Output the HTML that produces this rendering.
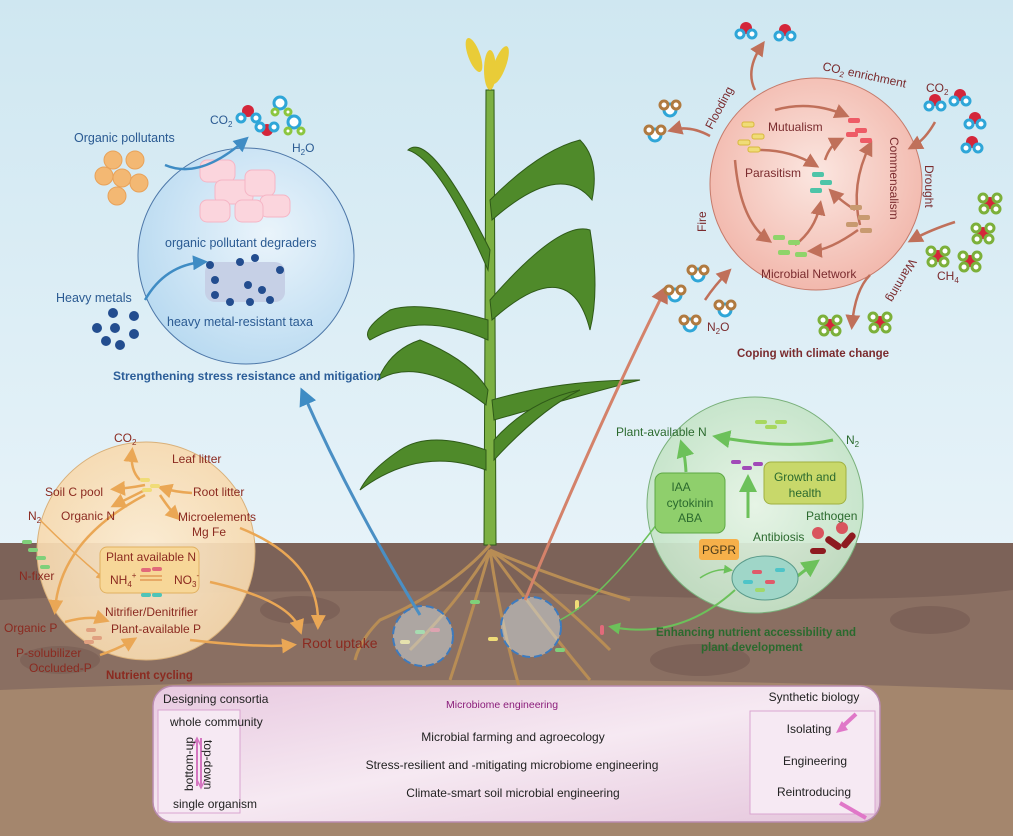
<!DOCTYPE html>
<html><head><meta charset="utf-8"><style>
html,body{margin:0;padding:0;width:1013px;height:836px;overflow:hidden}
svg{display:block}
text{font-family:"Liberation Sans",sans-serif}
</style></head><body>
<svg width="1013" height="836" viewBox="0 0 1013 836" xmlns="http://www.w3.org/2000/svg">
<defs>
<linearGradient id="sky" x1="0" y1="0" x2="0" y2="1"><stop offset="0" stop-color="#cfe7f1"/><stop offset="1" stop-color="#f3f9fd"/></linearGradient>
<radialGradient id="bc" cx="0.6" cy="0.4" r="0.7"><stop offset="0" stop-color="#eaf4fb"/><stop offset="1" stop-color="#b5d8f0"/></radialGradient>
<radialGradient id="pc" cx="0.5" cy="0.45" r="0.6"><stop offset="0" stop-color="#fbe6e0"/><stop offset="1" stop-color="#f1b4a8"/></radialGradient>
<radialGradient id="oc" cx="0.5" cy="0.5" r="0.6"><stop offset="0" stop-color="#fcebd0"/><stop offset="1" stop-color="#f6d6a8"/></radialGradient>
<radialGradient id="gc" cx="0.5" cy="0.5" r="0.6"><stop offset="0" stop-color="#e6f4e4"/><stop offset="1" stop-color="#bfe1c3"/></radialGradient>
<linearGradient id="box" x1="0" y1="0" x2="1" y2="1"><stop offset="0" stop-color="#e8c9e0"/><stop offset="0.5" stop-color="#f6e9f2"/><stop offset="1" stop-color="#e5c6dc"/></linearGradient>
<marker id="ao" markerWidth="6" markerHeight="6" refX="4" refY="3" orient="auto"><path d="M0,0 L6,3 L0,6z" fill="#eaa755"/></marker>
<marker id="ar" markerWidth="6" markerHeight="6" refX="4" refY="3" orient="auto"><path d="M0,0 L6,3 L0,6z" fill="#c0705a"/></marker>
<marker id="ag" markerWidth="6" markerHeight="6" refX="4" refY="3" orient="auto"><path d="M0,0 L6,3 L0,6z" fill="#6cc15a"/></marker>
<marker id="ab" markerWidth="6" markerHeight="6" refX="4" refY="3" orient="auto"><path d="M0,0 L6,3 L0,6z" fill="#3f8cc4"/></marker>
<g id="mw"><circle cx="0" cy="0" r="6" fill="#d4263a"/><circle cx="-6" cy="6" r="4" fill="#fff" stroke="#2fa6d8" stroke-width="3"/><circle cx="6" cy="6" r="4" fill="#fff" stroke="#2fa6d8" stroke-width="3"/></g>
<g id="mn"><circle cx="0" cy="0" r="6" fill="#fff" stroke="#2fa6d8" stroke-width="3"/><circle cx="-6" cy="-5" r="4" fill="#fff" stroke="#b07a40" stroke-width="3"/><circle cx="6" cy="-5" r="4" fill="#fff" stroke="#b07a40" stroke-width="3"/></g>
<g id="mc"><circle cx="0" cy="0" r="6" fill="#d4263a"/><circle cx="-7" cy="-5" r="4" fill="#fff" stroke="#7cb03a" stroke-width="3"/><circle cx="7" cy="-5" r="4" fill="#fff" stroke="#7cb03a" stroke-width="3"/><circle cx="-6" cy="6" r="4" fill="#fff" stroke="#7cb03a" stroke-width="3"/><circle cx="6" cy="6" r="4" fill="#fff" stroke="#7cb03a" stroke-width="3"/></g>
</defs>
<rect width="1013" height="836" fill="url(#sky)"/>
<!-- soil -->
<rect y="543" width="1013" height="293" fill="#7c6258"/>
<path d="M0,600 Q300,585 600,595 T1013,590 L1013,836 L0,836z" fill="#8a6f62"/>
<path d="M0,690 Q500,670 1013,690 L1013,836 L0,836z" fill="#a4866d"/>
<ellipse cx="300" cy="610" rx="40" ry="14" fill="#6f564d" opacity="0.5"/>
<ellipse cx="700" cy="660" rx="50" ry="16" fill="#6f564d" opacity="0.5"/>
<ellipse cx="930" cy="620" rx="40" ry="14" fill="#6f564d" opacity="0.5"/>
<ellipse cx="60" cy="660" rx="40" ry="14" fill="#6f564d" opacity="0.4"/>
<!-- plant -->
<g fill="#4f8a2a" stroke="#2f5a18" stroke-width="1">
<path d="M486,90 L494,90 L496,545 L484,545z" fill="#7cb043"/>
<path d="M490,250 Q430,130 408,150 Q440,160 488,270z"/>
<path d="M490,200 Q540,150 580,140 Q600,160 592,200 Q560,160 492,220z"/>
<path d="M490,300 Q560,220 590,230 Q600,290 590,330 Q570,250 492,320z"/>
<path d="M488,320 Q420,300 390,310 Q360,330 370,340 Q420,310 488,340z"/>
<path d="M488,390 Q470,360 420,340 Q390,350 378,380 Q420,355 486,405z"/>
<path d="M492,400 Q560,380 640,380 Q600,390 494,420z"/>
<path d="M486,450 Q430,430 400,450 Q370,470 360,490 Q420,445 486,470z"/>
<path d="M494,440 Q530,400 580,390 Q540,410 494,460z"/>
</g>
<g fill="#e9cc38"><ellipse cx="474" cy="55" rx="6" ry="18" transform="rotate(-20 474 55)"/><ellipse cx="490" cy="70" rx="6" ry="20"/><ellipse cx="500" cy="65" rx="6" ry="20" transform="rotate(20 500 65)"/></g>
<!-- roots -->
<g stroke="#b88d55" stroke-width="3" fill="none">
<path d="M490,545 Q450,590 380,620 Q360,640 355,660"/><path d="M490,550 Q460,600 410,650"/><path d="M490,550 Q500,620 520,690"/>
<path d="M490,550 Q550,590 610,650"/><path d="M490,550 Q560,580 630,600"/><path d="M490,550 Q540,620 590,680"/><path d="M490,550 Q470,620 450,680"/>
</g>
<g fill="#f0dc77"><rect x="400" y="640" width="10" height="4" rx="2"/><rect x="488" y="637" width="10" height="4" rx="2"/><rect x="575" y="600" width="4" height="10" rx="2"/></g>
<g fill="#7fd07a"><rect x="470" y="600" width="10" height="4" rx="2"/><rect x="415" y="630" width="10" height="4" rx="2"/><rect x="555" y="648" width="10" height="4" rx="2"/></g>
<g fill="#e26a7a"><rect x="430" y="628" width="10" height="4" rx="2"/><rect x="600" y="625" width="4" height="10" rx="2"/></g>
<circle cx="423" cy="636" r="30" fill="#d8e8f2" fill-opacity="0.45" stroke="#3d7bbf" stroke-width="2" stroke-dasharray="8 4"/>
<circle cx="531" cy="627" r="30" fill="#d8e8f2" fill-opacity="0.45" stroke="#3d7bbf" stroke-width="2" stroke-dasharray="8 4"/>
<!-- long arrows -->
<path d="M420,615 Q350,500 303,393" stroke="#4a8fc4" stroke-width="3" fill="none" marker-end="url(#ab)"/>
<path d="M525,600 Q600,420 665,290" stroke="#d4826a" stroke-width="3" fill="none" marker-end="url(#ar)"/>

<!-- blue circle -->
<circle cx="246" cy="256" r="108" fill="url(#bc)" stroke="#4d77a8" stroke-width="1"/>
<g fill="#fbd5dd" stroke="#f5b5c5"><rect x="200" y="160" width="35" height="22" rx="7"/><rect x="215" y="180" width="38" height="24" rx="7"/><rect x="245" y="170" width="30" height="26" rx="7"/><rect x="260" y="195" width="30" height="22" rx="7"/><rect x="200" y="200" width="30" height="22" rx="7"/><rect x="235" y="200" width="28" height="22" rx="7"/></g>
<g fill="#c6d0e6"><rect x="205" y="262" width="80" height="40" rx="10"/></g>
<g fill="#234d8f"><circle cx="210" cy="265" r="4"/><circle cx="240" cy="262" r="4"/><circle cx="255" cy="258" r="4"/><circle cx="280" cy="270" r="4"/><circle cx="215" cy="280" r="4"/><circle cx="248" cy="285" r="4"/><circle cx="262" cy="290" r="4"/><circle cx="230" cy="302" r="4"/><circle cx="250" cy="302" r="4"/><circle cx="215" cy="295" r="4"/><circle cx="270" cy="300" r="4"/></g>
<g fill="#234d8f"><circle cx="113" cy="313" r="5"/><circle cx="134" cy="316" r="5"/><circle cx="115" cy="328" r="5"/><circle cx="97" cy="328" r="5"/><circle cx="134" cy="334" r="5"/><circle cx="106" cy="341" r="5"/><circle cx="120" cy="345" r="5"/></g>
<g fill="#f3b873" stroke="#e8a25a"><circle cx="113" cy="160" r="9"/><circle cx="135" cy="160" r="9"/><circle cx="104" cy="176" r="9"/><circle cx="122" cy="178" r="9"/><circle cx="139" cy="183" r="9"/><circle cx="117" cy="196" r="9"/></g>
<path d="M165,165 Q200,180 245,140" stroke="#3f8cc4" stroke-width="2.5" fill="none" marker-end="url(#ab)"/>
<path d="M145,300 Q165,265 203,262" stroke="#3f8cc4" stroke-width="2.5" fill="none" marker-end="url(#ab)"/>
<g><circle cx="248" cy="111" r="6" fill="#d4263a"/><circle cx="241" cy="118" r="4" fill="#fff" stroke="#2fa6d8" stroke-width="3"/><circle cx="256" cy="118" r="4" fill="#fff" stroke="#2fa6d8" stroke-width="3"/><circle cx="267" cy="130" r="6" fill="#d4263a"/><circle cx="260" cy="127" r="4" fill="#fff" stroke="#2fa6d8" stroke-width="3"/><circle cx="274" cy="127" r="4" fill="#fff" stroke="#2fa6d8" stroke-width="3"/><circle cx="280" cy="103" r="6" fill="#fff" stroke="#2fa6d8" stroke-width="3"/><circle cx="275" cy="112" r="3" fill="#fff" stroke="#8cc63f" stroke-width="3"/><circle cx="288" cy="112" r="3" fill="#fff" stroke="#8cc63f" stroke-width="3"/><circle cx="294" cy="122" r="6" fill="#fff" stroke="#2fa6d8" stroke-width="3"/><circle cx="288" cy="131" r="3" fill="#fff" stroke="#8cc63f" stroke-width="3"/><circle cx="301" cy="131" r="3" fill="#fff" stroke="#8cc63f" stroke-width="3"/></g>
<g fill="#2a5a92" font-size="12.5">
<text x="74" y="142">Organic pollutants</text>
<text x="210" y="124" font-size="12">CO<tspan font-size="8" dy="3">2</tspan></text>
<text x="292" y="152" font-size="12">H<tspan font-size="8" dy="3">2</tspan><tspan dy="-3">O</tspan></text>
<text x="165" y="247">organic pollutant degraders</text>
<text x="56" y="302">Heavy metals</text>
<text x="167" y="326">heavy metal-resistant taxa</text>
<text x="113" y="380" font-weight="bold" fill="#2b5d98" font-size="12">Strengthening stress resistance and mitigation</text>
</g>

<!-- pink circle -->
<circle cx="816" cy="184" r="106" fill="url(#pc)" stroke="#c57a6a" stroke-width="1"/>
<g stroke="#c0705a" stroke-width="2.5" fill="none">
<path d="M775,110 Q810,100 845,115" marker-end="url(#ar)"/><path d="M760,150 Q790,150 815,165" marker-end="url(#ar)"/>
<path d="M735,160 Q740,220 768,240" marker-end="url(#ar)"/><path d="M795,245 Q815,230 820,205" marker-end="url(#ar)"/>
<path d="M825,160 Q830,145 840,140" marker-end="url(#ar)"/><path d="M855,210 Q840,200 832,192" marker-end="url(#ar)"/>
<path d="M860,225 Q850,185 870,145" marker-end="url(#ar)"/><path d="M858,230 Q830,250 812,251" marker-end="url(#ar)"/>
<path d="M755,90 Q745,70 762,45" marker-end="url(#ar)"/><path d="M710,136 Q690,125 672,130" marker-end="url(#ar)"/>
<path d="M935,122 Q925,140 912,147" marker-end="url(#ar)"/><path d="M955,222 Q930,230 912,240" marker-end="url(#ar)"/>
<path d="M870,275 Q855,290 852,325" marker-end="url(#ar)"/><path d="M705,300 Q715,285 728,272" marker-end="url(#ar)"/>
</g>
<g fill="#f0dc77" stroke="#d8b83c"><rect x="742" y="122" width="12" height="5" rx="2"/><rect x="752" y="134" width="12" height="5" rx="2"/><rect x="738" y="140" width="12" height="5" rx="2"/><rect x="748" y="147" width="12" height="5" rx="2"/></g>
<g fill="#ee5b66"><rect x="848" y="118" width="12" height="5" rx="2"/><rect x="855" y="128" width="12" height="5" rx="2"/><rect x="846" y="132" width="12" height="5" rx="2"/><rect x="860" y="138" width="12" height="5" rx="2"/></g>
<g fill="#4ec4a8"><rect x="812" y="172" width="12" height="5" rx="2"/><rect x="820" y="180" width="12" height="5" rx="2"/><rect x="810" y="188" width="12" height="5" rx="2"/></g>
<g fill="#c89a70"><rect x="850" y="205" width="12" height="5" rx="2"/><rect x="858" y="215" width="12" height="5" rx="2"/><rect x="846" y="222" width="12" height="5" rx="2"/><rect x="860" y="228" width="12" height="5" rx="2"/></g>
<g fill="#8fd46a"><rect x="773" y="235" width="12" height="5" rx="2"/><rect x="788" y="240" width="12" height="5" rx="2"/><rect x="778" y="250" width="12" height="5" rx="2"/><rect x="795" y="252" width="12" height="5" rx="2"/></g>
<g fill="#7a2b2e" font-size="12">
<text x="768" y="131">Mutualism</text>
<text x="745" y="177">Parasitism</text>
<text x="761" y="278">Microbial Network</text>
<text x="822" y="70" transform="rotate(12 822 70)">CO<tspan font-size="8" dy="3">2</tspan><tspan dy="-3"> enrichment</tspan></text>
<text x="712" y="130" transform="rotate(-62 712 130)">Flooding</text>
<text x="706" y="232" transform="rotate(-90 706 232)">Fire</text>
<text x="890" y="137" transform="rotate(90 890 137)">Commensalism</text>
<text x="925" y="165" transform="rotate(90 925 165)">Drought</text>
<text x="910" y="258" transform="rotate(120 910 258)">Warming</text>
<text x="926" y="92">CO<tspan font-size="8" dy="3">2</tspan></text>
<text x="937" y="280">CH<tspan font-size="8" dy="3">4</tspan></text>
<text x="707" y="331">N<tspan font-size="8" dy="3">2</tspan><tspan dy="-3">O</tspan></text>
<text x="737" y="357" font-weight="bold" font-size="11.5">Coping with climate change</text>
</g>
<use href="#mw" x="746" y="28"/><use href="#mw" x="785" y="30"/><use href="#mw" x="935" y="100"/><use href="#mw" x="960" y="95"/><use href="#mw" x="975" y="118"/><use href="#mw" x="972" y="142"/>
<use href="#mn" x="670" y="110"/><use href="#mn" x="655" y="135"/><use href="#mn" x="698" y="275"/><use href="#mn" x="675" y="295"/><use href="#mn" x="725" y="310"/><use href="#mn" x="690" y="325"/>
<use href="#mc" x="990" y="203"/><use href="#mc" x="983" y="233"/><use href="#mc" x="938" y="256"/><use href="#mc" x="970" y="261"/><use href="#mc" x="830" y="325"/><use href="#mc" x="880" y="322"/>

<!-- orange circle -->
<circle cx="146" cy="551" r="109" fill="url(#oc)" fill-opacity="0.92" stroke="#d9b07a" stroke-width="1"/>
<g stroke="#eaa755" stroke-width="2.5" fill="none">
<path d="M140,480 Q130,470 132,452" marker-end="url(#ao)"/><path d="M145,485 Q130,488 115,489" marker-end="url(#ao)"/>
<path d="M145,490 Q125,500 115,505" marker-end="url(#ao)"/><path d="M192,493 Q175,492 162,488" marker-end="url(#ao)"/>
<path d="M160,495 Q170,510 177,517" marker-end="url(#ao)"/><path d="M40,520 Q70,550 103,578" marker-end="url(#ao)" stroke-width="1.5"/>
<path d="M145,495 Q60,540 55,610" marker-end="url(#ao)"/><path d="M65,622 Q90,615 105,620" marker-end="url(#ao)"/>
<path d="M100,655 Q120,648 133,640" marker-end="url(#ao)"/><path d="M210,582 Q290,600 300,630" marker-end="url(#ao)"/>
<path d="M240,528 Q320,560 318,625" marker-end="url(#ao)"/><path d="M190,640 Q260,648 292,645" marker-end="url(#ao)"/>
</g>
<rect x="100" y="547" width="99" height="46" rx="7" fill="#f7d798" stroke="#e1b060"/>
<g fill="#f0dc77"><rect x="140" y="478" width="10" height="4" rx="2"/><rect x="150" y="484" width="10" height="4" rx="2"/><rect x="142" y="488" width="10" height="4" rx="2"/></g>
<g fill="#7fd07a"><rect x="22" y="540" width="10" height="4" rx="2"/><rect x="28" y="548" width="10" height="4" rx="2"/><rect x="36" y="556" width="10" height="4" rx="2"/><rect x="40" y="565" width="10" height="4" rx="2"/></g>
<g fill="#e26a7a"><rect x="141" y="568" width="10" height="4" rx="2"/><rect x="152" y="567" width="10" height="4" rx="2"/></g>
<g fill="#4ec4b8"><rect x="141" y="593" width="10" height="4" rx="2"/><rect x="152" y="593" width="10" height="4" rx="2"/></g>
<g fill="#e0a080"><rect x="86" y="628" width="10" height="4" rx="2"/><rect x="92" y="636" width="10" height="4" rx="2"/><rect x="84" y="640" width="10" height="4" rx="2"/></g>
<g fill="#8b2a20" font-size="12">
<text x="114" y="442">CO<tspan font-size="8" dy="3">2</tspan></text>
<text x="172" y="463">Leaf litter</text>
<text x="45" y="496">Soil C pool</text>
<text x="193" y="496">Root litter</text>
<text x="28" y="520">N<tspan font-size="8" dy="3">2</tspan></text>
<text x="61" y="520">Organic N</text>
<text x="178" y="521">Microelements</text>
<text x="192" y="536">Mg  Fe</text>
<text x="106" y="561">Plant available N</text>
<text x="110" y="584">NH<tspan font-size="8" dy="3">4</tspan><tspan font-size="8" dy="-9">+</tspan></text>
<text x="174" y="584">NO<tspan font-size="8" dy="3">3</tspan><tspan font-size="8" dy="-9">-</tspan></text>
<text x="19" y="580">N-fixer</text>
<text x="105" y="616">Nitrifier/Denitrifier</text>
<text x="4" y="632">Organic P</text>
<text x="111" y="633">Plant-available P</text>
<text x="16" y="657">P-solubilizer</text>
<text x="29" y="672">Occluded-P</text>
<text x="106" y="679" font-weight="bold" font-size="11.5">Nutrient cycling</text>
<text x="302" y="648" font-size="14">Root uptake</text>
</g>
<path d="M140,576 L162,576 M162,580 L140,580" stroke="#e29a55" stroke-width="1.5"/>

<!-- green circle -->
<circle cx="755" cy="505" r="108" fill="url(#gc)" fill-opacity="0.93" stroke="#79b07a" stroke-width="1"/>
<g stroke="#6cc15a" stroke-width="3" fill="none">
<path d="M833,440 Q790,450 718,437" marker-end="url(#ag)"/><path d="M686,472 Q685,455 682,445" marker-end="url(#ag)"/>
<path d="M748,518 L748,480" marker-end="url(#ag)"/><path d="M790,582 Q805,570 815,563" marker-end="url(#ag)"/>
<path d="M700,578 Q715,568 730,570" marker-end="url(#ag)" stroke-width="1.5"/>
<path d="M735,590 Q680,640 612,627" marker-end="url(#ag)" stroke-width="2"/>
<path d="M660,520 Q600,600 560,620" stroke-width="1.5"/>
</g>
<rect x="655" y="473" width="70" height="60" rx="8" fill="#8fcf6c" stroke="#5ea845"/>
<rect x="764" y="462" width="82" height="42" rx="7" fill="#c8d86a" stroke="#9fb040"/>
<rect x="699" y="539" width="40" height="21" rx="3" fill="#f6b04a"/>
<ellipse cx="765" cy="578" rx="33" ry="22" fill="#9fd6c8" stroke="#5a9a8a"/>
<g fill="#e05a6a"><rect x="752" y="570" width="10" height="4" rx="2"/><rect x="765" y="580" width="10" height="4" rx="2"/></g>
<g fill="#4ec4c8"><rect x="743" y="580" width="10" height="4" rx="2"/><rect x="775" y="568" width="10" height="4" rx="2"/></g>
<g fill="#a1d86a"><rect x="755" y="588" width="10" height="4" rx="2"/></g>
<g fill="#a14ab8"><rect x="731" y="460" width="10" height="4" rx="2"/><rect x="742" y="466" width="10" height="4" rx="2"/><rect x="753" y="462" width="10" height="4" rx="2"/></g>
<g fill="#a8d860"><rect x="755" y="420" width="12" height="4" rx="2"/><rect x="765" y="425" width="12" height="4" rx="2"/><rect x="775" y="420" width="12" height="4" rx="2"/></g>
<g fill="#8e1a20"><circle cx="818" cy="533" r="6" fill="#d9545e"/><circle cx="842" cy="528" r="6" fill="#d9545e"/><rect x="828" y="535" width="18" height="7" rx="3" transform="rotate(35 828 535)"/><rect x="840" y="545" width="18" height="7" rx="3" transform="rotate(-50 840 545)"/><rect x="810" y="548" width="16" height="6" rx="3"/></g>
<g fill="#2b6a2e" font-size="12">
<text x="616" y="436">Plant-available N</text>
<text x="846" y="444">N<tspan font-size="8" dy="3">2</tspan></text>
<text x="681" y="491" text-anchor="middle">IAA</text>
<text x="690" y="507" text-anchor="middle">cytokinin</text>
<text x="690" y="522" text-anchor="middle">ABA</text>
<text x="805" y="481" text-anchor="middle">Growth and</text>
<text x="805" y="497" text-anchor="middle">health</text>
<text x="806" y="520">Pathogen</text>
<text x="753" y="541">Antibiosis</text>
<text x="702" y="554" fill="#4a3a1a">PGPR</text>
<text x="656" y="636" font-weight="bold" font-size="11.5">Enhancing nutrient accessibility and</text>
<text x="701" y="651" font-weight="bold" font-size="11.5">plant development</text>
</g>

<!-- bottom box -->
<rect x="153" y="686" width="727" height="136" rx="20" fill="url(#box)" stroke="#b98bb0" stroke-width="1.5"/>
<rect x="158" y="710" width="82" height="103" fill="#f6e9f3" stroke="#d9a5d0"/>
<rect x="750" y="711" width="125" height="103" fill="#f6e9f3" stroke="#d9a5d0"/>
<path d="M197,740 L197,786" stroke="#d476c0" stroke-width="2"/><path d="M193,746 L197,738 L201,746" fill="none" stroke="#d476c0" stroke-width="1.5"/>
<path d="M201,738 L201,786" stroke="#d476c0" stroke-width="2"/><path d="M197,780 L201,788 L205,780" fill="none" stroke="#d476c0" stroke-width="1.5"/>
<path d="M842,727 L856,714" stroke="#e077c8" stroke-width="4"/><path d="M836,733 L842,721 L848,730z" fill="#e077c8"/>
<path d="M840,803 L866,818" stroke="#e077c8" stroke-width="4"/>
<g fill="#222" font-size="12">
<text x="163" y="703">Designing consortia</text>
<text x="170" y="726">whole community</text>
<text x="173" y="808">single organism</text>
<text x="0" y="0" transform="translate(193,791) rotate(-90)">bottom-up</text>
<text x="0" y="0" transform="translate(204,740) rotate(90)">top-down</text>
<text x="446" y="708" fill="#8a1d7a" font-size="10.5">Microbiome engineering</text>
<text x="513" y="741" text-anchor="middle">Microbial farming and agroecology</text>
<text x="512" y="769" text-anchor="middle">Stress-resilient and -mitigating microbiome engineering</text>
<text x="513" y="797" text-anchor="middle">Climate-smart soil microbial engineering</text>
<text x="814" y="701" text-anchor="middle">Synthetic biology</text>
<text x="809" y="733" text-anchor="middle">Isolating</text>
<text x="815" y="765" text-anchor="middle">Engineering</text>
<text x="814" y="796" text-anchor="middle">Reintroducing</text>
</g>
</svg>
</body></html>
